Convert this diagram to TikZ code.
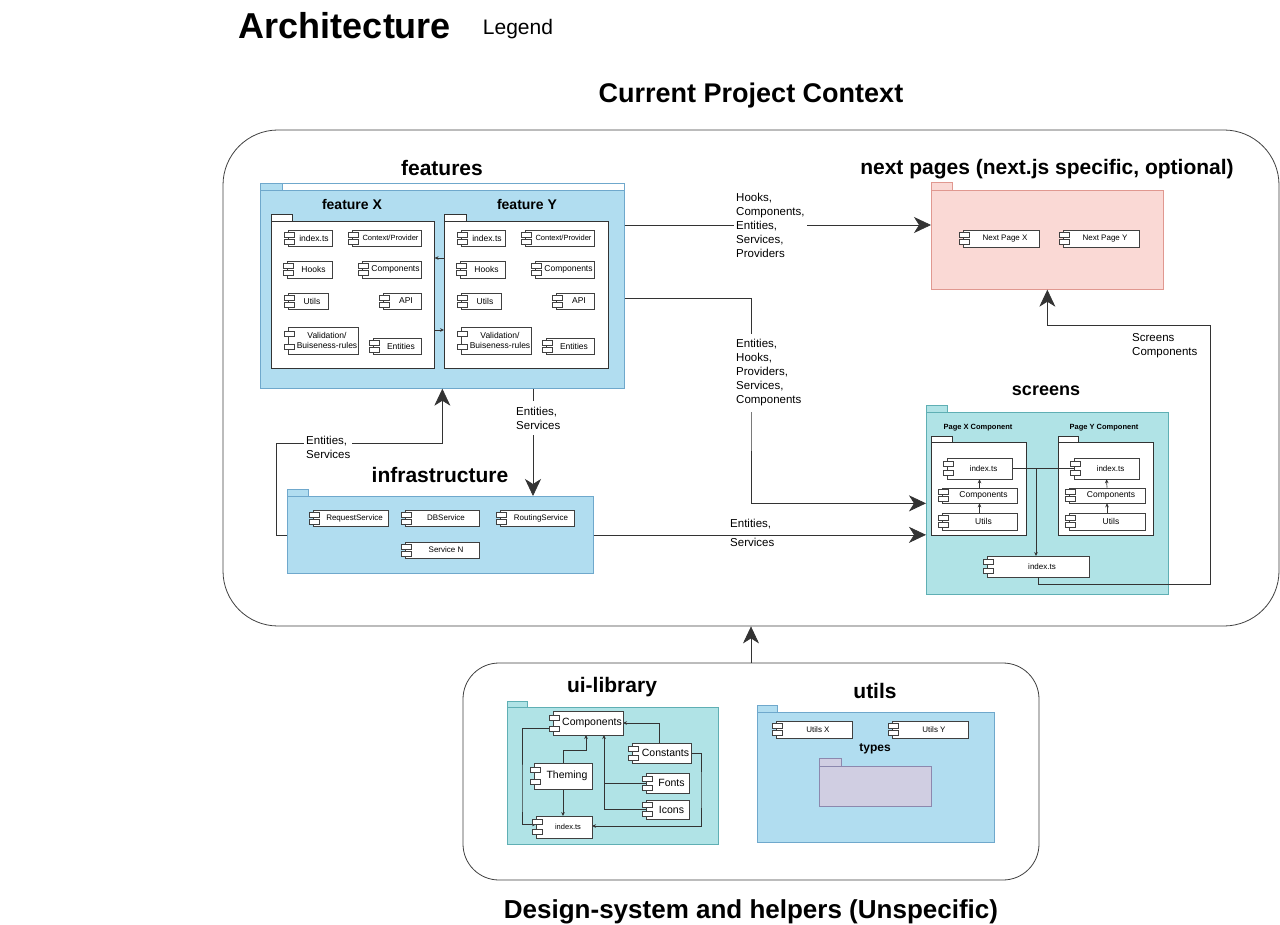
\documentclass[tikz,border=0pt]{standalone}
\usepackage{fontspec}
\setmainfont{Liberation Sans}
\usetikzlibrary{arrows.meta,calc}

\definecolor{bluefill}{HTML}{B1DDF0}
\definecolor{bluestroke}{HTML}{6FA8CC}
\definecolor{tealfill}{HTML}{B0E3E6}
\definecolor{tealstroke}{HTML}{5FAFB4}
\definecolor{pinkfill}{HTML}{FAD9D5}
\definecolor{pinkstroke}{HTML}{E09890}
\definecolor{purpfill}{HTML}{D0CEE2}
\definecolor{purpstroke}{HTML}{8C88AE}

\tikzset{
  container/.style={draw=black!75, fill=white, line width=0.8pt, inner sep=0pt},
  bluepkg/.style={draw=bluestroke, fill=bluefill, line width=0.7pt},
  tealpkg/.style={draw=tealstroke, fill=tealfill, line width=0.7pt},
  pinkpkg/.style={draw=pinkstroke, fill=pinkfill, line width=0.7pt},
  purppkg/.style={draw=purpstroke, fill=purpfill, line width=0.7pt},
  whitepkg/.style={draw=black!80, fill=white, line width=0.6pt},
  cbox/.style={draw=black!75, fill=white, line width=0.6pt, inner sep=0pt},
  cport/.style={draw=black!75, fill=white, line width=0.6pt},
  ctext/.style={font=\fontsize{8.5}{10}\selectfont, align=center, inner sep=0pt},
  conn/.style={draw=black!80, line width=0.7pt},
  bigarr/.style={-{Stealth[length=17pt,width=16pt,inset=5pt]}},
  smallarr/.style={-{Stealth[length=4pt,width=3.6pt]}},
  elabel/.style={font=\fontsize{11.5}{14}\selectfont, align=left, inner sep=2pt},
  bglabel/.style={elabel, fill=white, inner ysep=6pt},
  bigtitle/.style={font=\fontsize{21}{24}\selectfont\bfseries, inner sep=0pt},
}

% package: style, name, x1, ytab, xtab, ybody, x2, y2
\newcommand{\pkgbox}[8]{%
  \path[#1] (#3,#4) rectangle (#5,#6);
  \node[#1,inner sep=0pt,anchor=north west,minimum width={#7-#3},minimum height={#8-#6}] (#2) at (#3,#6) {};
}
% component: [text opts], name, x1, y1, x2, y2, text
\newcommand{\cmpbox}[7][]{%
  \node[cbox,minimum width={#5-#3},minimum height={#6-#4}] (#2) at ({(#3+#5)/2},{(#4+#6)/2}) {};
  \draw[cport] ({#3-4},{(#4+#6)/2-6-(#6-#4-16)/4}) rectangle ++(10,5);
  \draw[cport] ({#3-4},{(#4+#6)/2+1+(#6-#4-16)/4}) rectangle ++(10,5);
  \node[ctext,#1] (#2-t) at ({(#3+#5)/2+4},{(#4+#6)/2}) {#7};
}

\begin{document}
\begin{tikzpicture}[x=1pt,y=-1pt]
\useasboundingbox (0,0) rectangle (1280,925);

% titles
\node[font=\fontsize{36}{40}\selectfont\bfseries, anchor=base, inner sep=0pt] (title) at (345,38.5) {Architecture};
\node[font=\fontsize{21}{24}\selectfont, anchor=base, inner sep=0pt] (legend) at (518,34.5) {Legend};
\node[font=\fontsize{27}{30}\selectfont\bfseries, anchor=base, inner sep=0pt] (ctxtitle) at (751,102.5) {Current Project Context};
\node[font=\fontsize{26}{30}\selectfont\bfseries, anchor=base, inner sep=0pt] (dstitle) at (751,918) {Design-system and helpers (Unspecific)};

% containers
\node[container, minimum width=1056, minimum height=496, rounded corners=55pt] (ctx) at (751,378) {};
\node[container, minimum width=576, minimum height=217, rounded corners=36pt] (ds) at (751,771.5) {};

% ---------- features ----------
\node[bigtitle] (featt) at (442,168) {features};
\path[draw=bluestroke, fill=white, line width=0.7pt] (260,183) rectangle (624,190);
\pkgbox{bluepkg}{feat}{260}{183}{282}{190}{624}{388}
\node[font=\fontsize{14}{16}\selectfont\bfseries, inner sep=0pt] (fxt) at (352,204) {feature X};
\node[font=\fontsize{14}{16}\selectfont\bfseries, inner sep=0pt] (fyt) at (527,204) {feature Y};
\pkgbox{whitepkg}{fx}{271}{214}{292}{221}{434}{368}
\pkgbox{whitepkg}{fy}{444}{214}{466}{221}{608}{368}
\coordinate (ya) at (0,258);
\coordinate (yb) at (0,330);
\draw[conn,smallarr] (fy.west |- ya) -- (fx.east |- ya);
\draw[conn,smallarr] (fx.east |- yb) -- (fy.west |- yb);

\cmpbox{fxidx}{288}{230}{332}{246}{index.ts}
\cmpbox[font=\fontsize{7.5}{9}\selectfont]{fxctx}{352}{230}{421}{246}{Context/Provider}
\cmpbox{fxhk}{287}{261}{332}{278}{Hooks}
\cmpbox{fxcmp}{362}{261}{421}{278}{Components}
\cmpbox{fxut}{288}{293}{328}{309}{Utils}
\cmpbox{fxapi}{383}{293}{421}{309}{API}
\cmpbox{fxval}{288}{327}{358}{354}{Validation/\\Buiseness-rules}
\cmpbox{fxent}{373}{338}{421}{354}{Entities}

\cmpbox{fyidx}{461}{230}{505}{246}{index.ts}
\cmpbox[font=\fontsize{7.5}{9}\selectfont]{fyctx}{525}{230}{594}{246}{Context/Provider}
\cmpbox{fyhk}{460}{261}{505}{278}{Hooks}
\cmpbox{fycmp}{535}{261}{594}{278}{Components}
\cmpbox{fyut}{461}{293}{501}{309}{Utils}
\cmpbox{fyapi}{556}{293}{594}{309}{API}
\cmpbox{fyval}{461}{327}{531}{354}{Validation/\\Buiseness-rules}
\cmpbox{fyent}{546}{338}{594}{354}{Entities}

% ---------- next pages ----------
\node[bigtitle] (npt) at (1047,169) {next pages (next.js specific, optional)};
\pkgbox{pinkpkg}{np}{931}{182}{952}{190}{1163}{289}
\cmpbox[font=\fontsize{8}{10}\selectfont]{npx}{963}{230}{1039}{247}{Next Page X}
\cmpbox[font=\fontsize{8}{10}\selectfont]{npy}{1063}{230}{1139}{247}{Next Page Y}

% ---------- infrastructure ----------
\node[bigtitle] (inft) at (440,475) {infrastructure};
\pkgbox{bluepkg}{infra}{287}{489}{308}{496}{593}{573}
\cmpbox[font=\fontsize{8}{10}\selectfont]{reqs}{313}{510}{388}{526}{RequestService}
\cmpbox[font=\fontsize{8}{10}\selectfont]{dbs}{405}{510}{479}{526}{DBService}
\cmpbox[font=\fontsize{8}{10}\selectfont]{rts}{500}{510}{574}{526}{RoutingService}
\cmpbox[font=\fontsize{8}{10}\selectfont]{svn}{405}{542}{479}{558}{Service N}

% ---------- screens ----------
\node[font=\fontsize{18}{20}\selectfont\bfseries, inner sep=0pt] (scrt) at (1046,391) {screens};
\pkgbox{tealpkg}{scr}{926}{405}{947}{412}{1168}{594}
\node[font=\fontsize{7.5}{9}\selectfont\bfseries, inner sep=0pt] (pgxt) at (978,428) {Page X Component};
\node[font=\fontsize{7.5}{9}\selectfont\bfseries, inner sep=0pt] (pgyt) at (1104,428) {Page Y Component};
\pkgbox{whitepkg}{pgx}{931}{436}{952}{442}{1026}{535}
\pkgbox{whitepkg}{pgy}{1058}{436}{1078}{442}{1153}{535}

\coordinate (sj) at (1036,468.5);
\draw[conn] (sj) -- (1012,468.5);
\draw[conn] (sj) -- (1074,468.5);
\draw[conn,smallarr] (sj) -- (1036,556);

\cmpbox[font=\fontsize{8}{10}\selectfont]{pxidx}{947}{458}{1012}{479}{index.ts}
\cmpbox[font=\fontsize{8.5}{10}\selectfont]{pxcmp}{942}{488}{1017}{503}{Components}
\cmpbox[font=\fontsize{8.5}{10}\selectfont]{pxut}{942}{513}{1017}{530}{Utils}
\cmpbox[font=\fontsize{8}{10}\selectfont]{pyidx}{1074}{458}{1139}{479}{index.ts}
\cmpbox[font=\fontsize{8.5}{10}\selectfont]{pycmp}{1069}{488}{1145}{503}{Components}
\cmpbox[font=\fontsize{8.5}{10}\selectfont]{pyut}{1069}{513}{1145}{530}{Utils}
\cmpbox[font=\fontsize{8}{10}\selectfont]{sidx}{987}{556}{1089}{577}{index.ts}

\draw[conn,smallarr] (pxut.north) -- (pxcmp.south);
\draw[conn,smallarr] (pxcmp.north) -- (pxidx.south);
\draw[conn,smallarr] (pyut.north) -- (pycmp.south);
\draw[conn,smallarr] (pycmp.north) -- (pyidx.south);

% ---------- main connectors ----------
% features -> next pages
\coordinate (e1s) at ([yshift=-35pt]feat.north east);
\draw[conn,bigarr] (e1s) -- (e1s -| np.west);
\node[elabel, anchor=west, fill=white] (l1) at (734,225) {Hooks,\\Components,\\Entities,\\Services,\\Providers};

% features -> screens
\coordinate (e2s) at ([yshift=-108pt]feat.north east);
\coordinate (e2m) at (751,400);
\draw[conn,bigarr] (e2s) -| (e2m) |- (scr.west);
\node[bglabel, anchor=west] (l2) at (734,373) {Entities,\\Hooks,\\Providers,\\Services,\\Components};

% infrastructure -> screens
\draw[conn,bigarr] (infra.east) -- (infra.east -| scr.west);
\node[elabel, anchor=south west] (l3a) at (728,531) {Entities,};
\node[elabel, anchor=north west] (l3b) at (728,536) {Services};

% features -> infrastructure
\coordinate (x533) at (533,0);
\draw[conn,bigarr] (feat.south -| x533) -- (infra.north -| x533);
\node[bglabel, anchor=west] (l4) at (514,418) {Entities,\\Services};

% infrastructure -> features
\coordinate (e5a) at (276,443);
\draw[conn,bigarr] (infra.west) -| (e5a) -| (feat.south);
\node[elabel, anchor=west, fill=white] (l5) at (304,447) {Entities,\\Services};

% screens -> next pages
\coordinate (e6a) at (1210,584);
\coordinate (e6b) at (1210,325);
\draw[conn,bigarr] (sidx.south) |- (e6a) -- (e6b) -| (np.south);
\node[elabel, anchor=north west] (l6) at (1130,331) {Screens\\Components};

% design system -> context
\draw[conn,bigarr] (ds.north) -- (ctx.south);

% ---------- ui-library ----------
\node[bigtitle] (uit) at (612,687) {ui-library};
\pkgbox{tealpkg}{ui}{507}{701}{527}{707}{718}{844}
\coordinate (ut1) at (586,750);
\coordinate (ut2) at (604,783);
\coordinate (ul1) at (522,800);
\coordinate (ur1) at (701,790);
\coordinate (ucx) at (659.5,0);
\draw[conn,smallarr] (ucx |- 0,743) -- (ucx |- 0,723) -- (623,723);
\draw[conn,smallarr] (563,763) |- (ut1) -- (586,735);
\draw[conn,smallarr] (646,783) -- (ut2) -- (604,735);
\draw[conn] (646,809.5) -| (ut2);
\draw[conn,smallarr] (563,789) -- (563,816);
\draw[conn,smallarr] (553,728) -| (ul1) |- (536,824.5);
\draw[conn,smallarr] (691,753) -| (ur1) |- (592,826);

\cmpbox[font=\fontsize{10.5}{12}\selectfont]{ucmp}{553}{711}{623}{735}{Components}
\cmpbox[font=\fontsize{10.5}{12}\selectfont]{ucon}{632}{743}{691}{763}{Constants}
\cmpbox[font=\fontsize{10.5}{12}\selectfont]{uthm}{534}{763}{592}{789}{Theming}
\cmpbox[font=\fontsize{10.5}{12}\selectfont]{ufnt}{646}{773}{689}{793}{Fonts}
\cmpbox[font=\fontsize{10.5}{12}\selectfont]{uicn}{646}{800}{689}{819}{Icons}
\cmpbox[font=\fontsize{7.5}{9}\selectfont]{uidx}{536}{816}{592}{838}{index.ts}

% ---------- utils ----------
\node[bigtitle] (utt) at (875,691) {utils};
\pkgbox{bluepkg}{ut}{757}{705}{777}{712}{994}{842}
\cmpbox[font=\fontsize{8}{10}\selectfont]{utx}{776}{721}{852}{738}{Utils X}
\cmpbox[font=\fontsize{8}{10}\selectfont]{uty}{892}{721}{968}{738}{Utils Y}
\node[font=\fontsize{12}{14}\selectfont\bfseries, inner sep=0pt] (tyt) at (875,749) {types};
\pkgbox{purppkg}{ty}{819}{758}{841}{766}{931}{806}

\end{tikzpicture}
\end{document}
